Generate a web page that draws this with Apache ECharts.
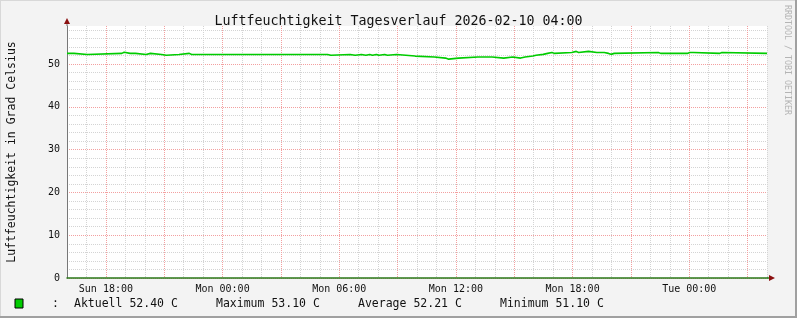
<!DOCTYPE html>
<html>
<head>
<meta charset="utf-8">
<script src="https://cdn.jsdelivr.net/npm/echarts@6/dist/echarts.min.js"></script>
<style>
html,body{margin:0;padding:0;background:#f3f3f3;}
#chart{width:797px;height:318px;}
</style>
</head>
<body>
<div id="chart"></div>
<script>
// ---- data (hours since Sun 2026-02-08 16:00, value in the step that starts there) ----
const hours = [0, 0.36, 1.04, 2.82, 2.94, 3.25, 3.35, 3.52, 4.07, 4.29, 4.86, 5.11, 5.76, 6.29, 6.41, 6.48,
  8.43, 8.5, 8.92, 8.99, 9.09, 9.16, 11.19, 11.28, 13.4, 13.57, 14.56, 14.82, 15.14, 15.37, 15.57, 15.71,
  15.91, 16.05, 16.34, 16.48, 16.95, 17.9, 18.89, 19.47, 19.63, 20.13, 21.13, 21.23, 21.6, 21.69, 21.86,
  22.46, 22.92, 23.33, 23.56, 23.96, 24.12, 24.49, 24.72, 24.94, 25.06, 25.96, 26.19, 26.31, 26.82, 27.25,
  27.33, 27.63, 27.85, 27.98, 28.14, 30.41, 30.53, 30.62, 31.9, 32.03, 32.09, 32.21, 33.57, 33.68, 36];
const humidity = [52.5, 52.25, 52.5, 52.75, 52.5, 52.75, 52.5, 52.25, 52.5, 52.25, 52.05, 52.25, 52.5, 52.25, 52.05, 52.25,
  52.5, 52.25, 52.5, 52.25, 52.5, 52.25, 52.5, 52.25, 52.05, 52.25, 52.05, 52.25, 52.05, 52.25, 52.05, 52.25,
  52.05, 52.25, 52.05, 52.25, 51.87, 51.64, 51.4, 51.15, 51.4, 51.64, 51.4, 51.64, 51.4, 51.64, 51.4,
  51.64, 51.4, 51.64, 51.87, 52.05, 52.27, 52.5, 52.72, 52.5, 52.72, 52.97, 52.72, 52.97, 52.72, 52.5,
  52.72, 52.5, 52.27, 52.5, 52.72, 52.5, 52.72, 52.5, 52.72, 52.5, 52.72, 52.5, 52.72, 52.5, 52.5];
const xTickHours = [2, 8, 14, 20, 26, 32];
const xTickLabels = ['Sun 18:00', 'Mon 00:00', 'Mon 06:00', 'Mon 12:00', 'Mon 18:00', 'Tue 00:00'];
const yTickLabels = [0, 10, 20, 30, 40, 50];
const titleText = 'Luftfeuchtigkeit Tagesverlauf 2026-02-10 04:00';
const yAxisTitle = 'Luftfeuchtigkeit in Grad Celsius';
const legendItems = ['Aktuell 52.40 C', 'Maximum 53.10 C', 'Average 52.21 C', 'Minimum 51.10 C'];
const creditText = 'RRDTOOL / TOBI OETIKER';

const FONT = '"DejaVu Sans Mono", monospace';
const chart = echarts.init(document.getElementById('chart'), null, {renderer: 'canvas'});
const grey = '#d4d4d4', red = '#f3a0a0';

const option = {
  backgroundColor: '#f3f3f3',
  animation: false,
  grid: {left: 67, right: 30, top: 26, bottom: 40, show: true, backgroundColor: '#ffffff', borderWidth: 0,
    containLabel: false, outerBoundsMode: 'none'},
  title: {
    text: titleText, left: 'center', top: 10,
    textStyle: {fontFamily: FONT, fontSize: 13.3, fontWeight: 'normal', color: '#111'}
  },
  xAxis: {
    type: 'value', min: 0, max: 36, interval: 1,
    axisLine: {show: true, lineStyle: {color: '#2a7a1a', width: 1.5}},
    axisTick: {show: false},
    axisLabel: {
      fontFamily: FONT, fontSize: 10, color: '#111', margin: 6,
      formatter: v => { const i = xTickHours.indexOf(v); return i >= 0 ? xTickLabels[i] : ''; }
    },
    splitLine: {show: true, lineStyle: {color: [grey, grey, red], type: [1, 1], width: 1}}
  },
  yAxis: {
    type: 'value', min: 0, max: 58.9, interval: 2,
    name: yAxisTitle, nameLocation: 'middle', nameGap: 49, nameRotate: 90,
    nameTextStyle: {fontFamily: FONT, fontSize: 11.5, color: '#111'},
    axisLine: {show: true, lineStyle: {color: '#777', width: 1}},
    axisTick: {show: false},
    axisLabel: {
      fontFamily: FONT, fontSize: 10, color: '#111', margin: 7,
      formatter: v => yTickLabels.indexOf(v) >= 0 ? String(v) : ''
    },
    splitLine: {show: true, showMaxLine: false, lineStyle: {color: [red, grey, grey, grey, grey], type: [1, 1], width: 1}}
  },
  series: [{
    type: 'line', step: 'end', symbol: 'none',
    data: hours.map((h, i) => [h, humidity[i]]),
    lineStyle: {color: '#00cc00', width: 1.6},
    z: 5
  }]
};
chart.setOption(option);

// decorations: arrows, legend, credit, frame
const o = chart.convertToPixel({gridIndex: 0}, [0, 0]);
const tr = chart.convertToPixel({gridIndex: 0}, [36, 58.9]);
const x0 = o[0], y0 = o[1], x1 = tr[0], y1 = tr[1];
const arrowCol = '#8b1010';
const legX = [74, 216, 358, 500];
const graphics = [
  {type: 'line', shape: {x1: x0, y1: y1, x2: x0, y2: y1 - 4}, style: {stroke: '#777', lineWidth: 1}},
  {type: 'polygon', shape: {points: [[x0 - 3, y1 - 2], [x0 + 3, y1 - 2], [x0, y1 - 8]]}, style: {fill: arrowCol}},
  {type: 'line', shape: {x1: x1, y1: y0, x2: x1 + 4, y2: y0}, style: {stroke: '#2a7a1a', lineWidth: 1.5}},
  {type: 'polygon', shape: {points: [[x1 + 2, y0 - 3], [x1 + 2, y0 + 3], [x1 + 8, y0]]}, style: {fill: arrowCol}},
  {type: 'rect', shape: {x: 15, y: 299, width: 8, height: 9}, style: {fill: '#00cc00', stroke: '#000', lineWidth: 1}},
  {type: 'text', x: 52, y: 304, style: {text: ':', font: '11.5px ' + FONT, fill: '#111', verticalAlign: 'middle'}},
  {type: 'text', x: 787, y: 5, rotation: -Math.PI / 2,
    style: {text: creditText, font: '8.3px ' + FONT, fill: '#b4b4b4', verticalAlign: 'middle', align: 'left'}},
  {type: 'line', shape: {x1: 0, y1: 0.5, x2: 797, y2: 0.5}, style: {stroke: '#d8d8d8', lineWidth: 1}},
  {type: 'line', shape: {x1: 0.5, y1: 0, x2: 0.5, y2: 318}, style: {stroke: '#d8d8d8', lineWidth: 1}},
  {type: 'line', shape: {x1: 0, y1: 317, x2: 797, y2: 317}, style: {stroke: '#a0a0a0', lineWidth: 2}},
  {type: 'line', shape: {x1: 796, y1: 0, x2: 796, y2: 318}, style: {stroke: '#a0a0a0', lineWidth: 2}}
];
legendItems.forEach((t, i) => {
  graphics.push({type: 'text', x: legX[i], y: 304, style: {text: t, font: '11.5px ' + FONT, fill: '#111', verticalAlign: 'middle'}});
});
chart.setOption({graphic: graphics});
</script>
</body>
</html>
